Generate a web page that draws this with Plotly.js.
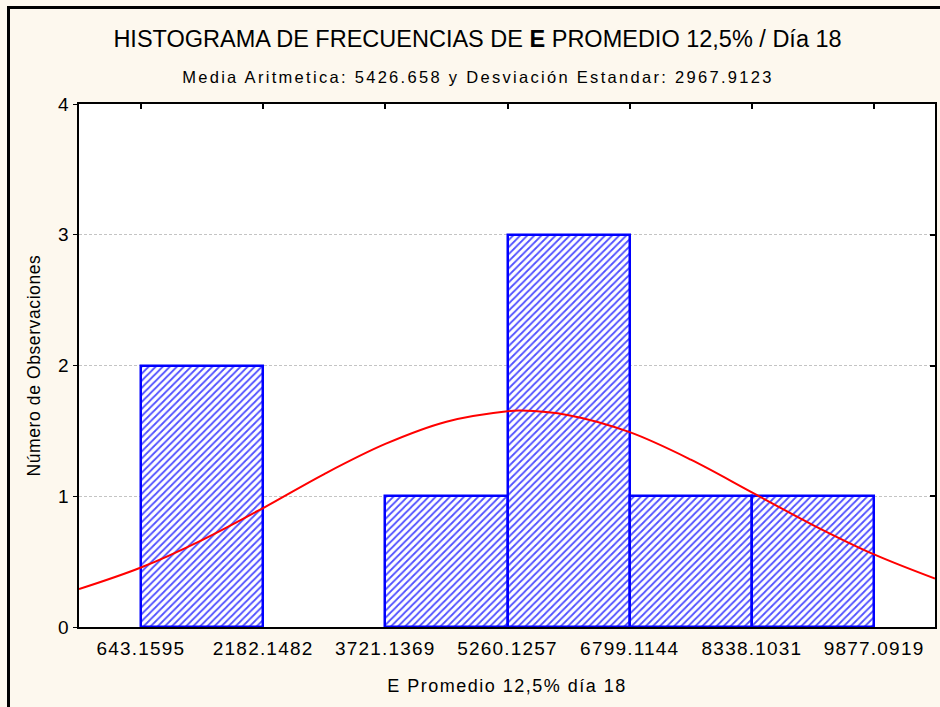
<!DOCTYPE html>
<html>
<head>
<meta charset="utf-8">
<script src="https://cdn.plot.ly/plotly-3.0.1.min.js"></script>
<style>
  html, body { margin: 0; padding: 0; background: #fdf8ee; }
  #chart { width: 940px; height: 707px; }
  #chart .xtick text { letter-spacing: 1.2px; }
  #chart .ytick text { letter-spacing: 0.5px; }
  #chart .g-xtitle text { letter-spacing: 1.5px; }
  #chart .g-ytitle text { letter-spacing: 0.6px; }
  #chart .annotation-text { letter-spacing: 2.3px; }
</style>
</head>
<body>
<div id="chart"></div>
<script>
// ---- data ----
const binEdges = [643.1595, 2182.1482, 3721.1369, 5260.1257, 6799.1144, 8338.1031, 9877.0919];
const binLabels = ['643.1595', '2182.1482', '3721.1369', '5260.1257', '6799.1144', '8338.1031', '9877.0919'];
const counts = [2, 0, 1, 3, 1, 1];

const curveX = [-137, 643.16, 1412.65, 2182.15, 2951.64, 3721.14, 4490.63, 5260.13, 5426.66, 6029.62, 6799.11, 7568.61, 8338.10, 9107.60, 9877.09, 10644];
const curveY = [0.29, 0.455, 0.665, 0.91, 1.17, 1.40, 1.57, 1.65, 1.655, 1.62, 1.49, 1.28, 1.03, 0.78, 0.555, 0.37];

const yTicks = [0, 1, 2, 3, 4];

const titleText = 'HISTOGRAMA DE FRECUENCIAS DE <b>E</b> PROMEDIO 12,5% / Día 18';
const subtitleText = 'Media Aritmetica: 5426.658 y Desviación Estandar: 2967.9123';
const xTitle = 'E Promedio 12,5% día 18';
const yTitle = '\u00a0\u00a0\u00a0\u00a0Número de Observaciones';

// ---- build bars from bin edges (empty bins are not drawn) ----
const centers = counts.map((c, i) => (binEdges[i] + binEdges[i + 1]) / 2);
const widths = counts.map((c, i) => binEdges[i + 1] - binEdges[i]);
const barHeights = counts.map(c => (c === 0 ? null : c));

const FONT = 'Liberation Sans, Arial, sans-serif';

const bars = {
  type: 'bar',
  x: centers,
  y: barHeights,
  width: widths,
  marker: {
    color: 'white',
    line: { color: '#0000ff', width: 2.5 },
    pattern: { shape: '/', fgcolor: '#5050ff', bgcolor: 'white', size: 5, solidity: 0.36 }
  },
  hoverinfo: 'x+y',
  showlegend: false
};

const curve = {
  type: 'scatter',
  mode: 'lines',
  x: curveX,
  y: curveY,
  xaxis: 'x2',
  yaxis: 'y2',
  line: { color: '#ff0000', width: 2, shape: 'spline', smoothing: 1 },
  hoverinfo: 'skip',
  showlegend: false
};

const L = 79, R = 5, T = 104, B = 80, W = 940, H = 707;
const pw = W - L - R, ph = H - T - B;
const px = v => (v - L) / pw;
const py = v => (H - B - v) / ph;

const xRange = [-137, 10644];

const layout = {
  width: W, height: H,
  paper_bgcolor: '#fdf8ee',
  plot_bgcolor: 'white',
  margin: { l: L, r: R, t: T, b: B, pad: 0 },
  font: { family: FONT, color: '#000000', size: 18 },
  bargap: 0,
  title: {
    text: titleText,
    font: { family: FONT, size: 23.5, color: '#000000' },
    xref: 'container', x: 0.508, xanchor: 'center',
    yref: 'container', y: 1 - 39 / H, yanchor: 'middle'
  },
  annotations: [{
    text: subtitleText,
    xref: 'paper', yref: 'paper',
    x: px(477.5), y: py(77), xanchor: 'center', yanchor: 'middle',
    showarrow: false,
    font: { family: FONT, size: 16.5, color: '#000000' }
  }],
  xaxis: {
    range: xRange,
    tickmode: 'array', tickvals: binEdges, ticktext: binLabels,
    ticks: '', ticklabelstandoff: 3,
    tickfont: { family: FONT, size: 19, color: '#000000' },
    showgrid: false, zeroline: false,
    showline: true, linecolor: '#000000', linewidth: 2, mirror: true,
    title: { text: xTitle, font: { family: FONT, size: 18, color: '#000000' }, standoff: 22 }
  },
  yaxis: {
    range: [0, 4],
    tickmode: 'array', tickvals: yTicks,
    ticks: 'outside', ticklen: 4, tickwidth: 1, tickcolor: '#000000',
    tickfont: { family: FONT, size: 19, color: '#000000' },
    showgrid: true, gridcolor: '#c4c4c4', gridwidth: 1, griddash: '3px,2px',
    zeroline: false,
    showline: true, linecolor: '#000000', linewidth: 2, mirror: true,
    title: { text: yTitle, font: { family: FONT, size: 17.5, color: '#000000' }, standoff: 13 }
  },
  xaxis2: {
    matches: 'x', overlaying: 'x', side: 'top',
    tickmode: 'array', tickvals: binEdges,
    ticks: 'inside', ticklen: 5, tickwidth: 1.5, tickcolor: '#000000',
    showticklabels: false, showgrid: false, zeroline: false, showline: false
  },
  yaxis2: {
    matches: 'y', overlaying: 'y', side: 'right',
    tickmode: 'array', tickvals: yTicks,
    ticks: 'inside', ticklen: 5, tickwidth: 1.5, tickcolor: '#000000',
    showticklabels: false, showgrid: false, zeroline: false, showline: false
  },
  shapes: [
    { type: 'line', xref: 'paper', yref: 'paper', x0: px(8.5), x1: px(8.5), y0: py(7), y1: py(712),
      line: { color: '#000000', width: 3 } },
    { type: 'line', xref: 'paper', yref: 'paper', x0: px(7), x1: px(945), y0: py(7.5), y1: py(7.5),
      line: { color: '#000000', width: 3 } }
  ]
};

Plotly.newPlot('chart', [bars, curve], layout, { displayModeBar: false });
</script>
</body>
</html>
